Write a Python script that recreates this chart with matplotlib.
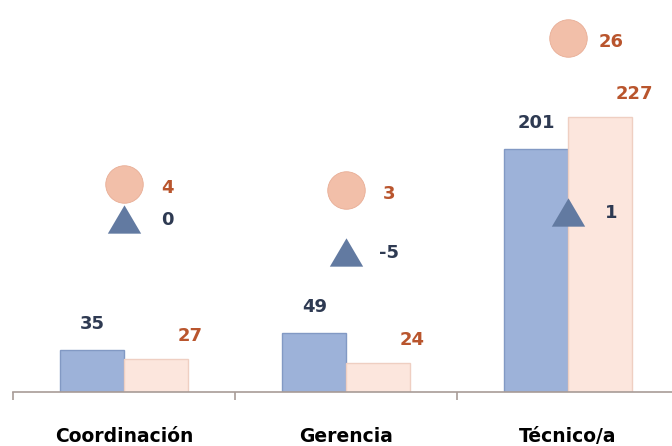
import numpy as np
import matplotlib
matplotlib.use("Agg")
import matplotlib.pyplot as plt
from matplotlib.transforms import offset_copy

plt.rcParams["font.family"] = ["DejaVu Sans"]

# datos
categorias = ["Coordinación", "Gerencia", "Técnico/a"]
serie_azul = [35, 49, 201]
serie_rosa = [27, 24, 227]
circulos = [4, 3, 26]
triangulos = [0, -5, 1]

AZUL = "#9db2d9"
AZUL_BORDE = "#8299c4"
ROSA = "#fce6dd"
ROSA_BORDE = "#efcfc2"
CIRCULO = "#f2bfa9"
TRIANGULO = "#627aa1"
TXT_AZUL = "#2e3a52"
TXT_ROSA = "#b9552d"

fig = plt.figure(figsize=(6.72, 4.46), dpi=100)
# el area del grafico se sale un poco por la derecha, como en el original
ax = fig.add_axes([13 / 672, 54 / 446, 666 / 672, 392 / 446])

x = np.arange(len(categorias))
ancho = 0.29

barras_a = ax.bar(x - ancho / 2, serie_azul, ancho, color=AZUL,
                  edgecolor=AZUL_BORDE, linewidth=1, zorder=2)
barras_r = ax.bar(x + ancho / 2, serie_rosa, ancho, color=ROSA,
                  edgecolor=ROSA_BORDE, linewidth=1, zorder=2)

ax.set_xlim(-0.5, len(categorias) - 0.5)
ax.set_ylim(0, 392 / 1.21)

# etiquetas de las barras
for b, v in zip(barras_a, serie_azul):
    ax.annotate(str(v), (b.get_x() + b.get_width() / 2, v),
                xytext=(1, 26), textcoords="offset pixels",
                ha="center", va="center", fontsize=13, fontweight="bold",
                color=TXT_AZUL)
for b, v in zip(barras_r, serie_rosa):
    ax.annotate(str(v), (b.get_x() + b.get_width() / 2, v),
                xytext=(34, 23), textcoords="offset pixels",
                ha="center", va="center", fontsize=13, fontweight="bold",
                color=TXT_ROSA)

# eje secundario para circulos y triangulos
ax2 = ax.twinx()
ax2.set_ylim((219 - 392) / 6.6, 219 / 6.6)
ax2.axis("off")

# los circulos se ven un poco mas arriba que su valor en el original
trans_circ = offset_copy(ax2.transData, fig=fig, y=9, units="dots")

tri = [(0, 0.85), (-1, -0.85), (1, -0.85)]
ax2.plot(x, triangulos, linestyle="none", marker=tri, markersize=24,
         color=TRIANGULO, markeredgewidth=0, zorder=3)
ax2.plot(x, circulos, linestyle="none", marker="o", markersize=27,
         color=CIRCULO, markeredgecolor="#e8ad95", markeredgewidth=0.6,
         zorder=4, transform=trans_circ)

for xi, v in zip(x, circulos):
    ax2.annotate(str(v), (xi, v), xycoords=trans_circ,
                 xytext=(43, -4), textcoords="offset pixels",
                 ha="center", va="center", fontsize=13, fontweight="bold",
                 color=TXT_ROSA)
for xi, v in zip(x, triangulos):
    ax2.annotate(str(v), (xi, v), xytext=(43, -1), textcoords="offset pixels",
                 ha="center", va="center", fontsize=13, fontweight="bold",
                 color=TXT_AZUL)

# ejes
for lado in ["top", "right", "left"]:
    ax.spines[lado].set_visible(False)
ax.spines["bottom"].set_color("#a89c97")
ax.spines["bottom"].set_linewidth(1.2)
ax.set_yticks([])
ax.set_xticks(x)
ax.set_xticklabels(categorias, fontsize=13.5, fontweight="bold")
ax.tick_params(axis="x", which="major", length=0, pad=25)
ax.set_xticks(np.arange(len(categorias) + 1) - 0.5, minor=True)
ax.tick_params(axis="x", which="minor", length=6, color="#a89c97", width=1.2)

fig.savefig("out.png", dpi=100)
